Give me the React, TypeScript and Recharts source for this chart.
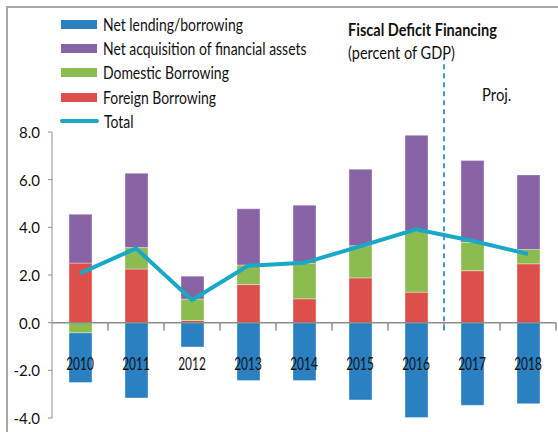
import React from "react";
import {
  ComposedChart,
  Bar,
  Line,
  XAxis,
  YAxis,
  ReferenceLine,
} from "recharts";

const years = ["2010", "2011", "2012", "2013", "2014", "2015", "2016", "2017", "2018"];
const foreignBorrowing = [2.5, 2.25, 0.09, 1.6, 1.0, 1.88, 1.28, 2.18, 2.47];
const domesticBorrowing = [-0.43, 0.9, 0.9, 0.82, 1.5, 1.35, 2.58, 1.2, 0.6];
const netAcquisition = [2.05, 3.12, 0.96, 2.36, 2.43, 3.21, 4.0, 3.42, 3.13];
const netLending = [-2.08, -3.16, -1.02, -2.43, -2.43, -3.24, -3.98, -3.47, -3.4];
const total = [2.07, 3.12, 0.95, 2.39, 2.51, 3.2, 3.92, 3.44, 2.88];
const yTicks = [-4, -2, 0, 2, 4, 6, 8];
// first projected year, dashed line sits at the start of its band
const projStart = "2017";

const COLORS = {
  lending: "#2a80c1",
  acquisition: "#8864a4",
  domestic: "#8cbb4f",
  foreign: "#dc4f4b",
  total: "#18a9c6",
  proj: "#3d9ad6",
  axis: "#8c8c8c",
};

const legendItems = [
  { label: "Net lending/borrowing", color: COLORS.lending, line: false },
  { label: "Net acquisition of financial assets", color: COLORS.acquisition, line: false },
  { label: "Domestic Borrowing", color: COLORS.domestic, line: false },
  { label: "Foreign Borrowing", color: COLORS.foreign, line: false },
  { label: "Total", color: COLORS.total, line: true },
];

const data = years.map((year, i) => ({
  year,
  foreign: foreignBorrowing[i],
  domestic: domesticBorrowing[i],
  acquisition: netAcquisition[i],
  lending: netLending[i],
  total: total[i],
}));

// tick marks between categories: start of every band after the first, plus end of the last
const boundaryTicks = [
  ...years.slice(1).map((y) => ({ year: y, position: "start" as const })),
  { year: years[years.length - 1], position: "end" as const },
];

const FONT = "Lato, 'Open Sans', sans-serif";

const XTick = (props: any) => {
  const { x, y, payload } = props;
  return (
    <g transform={`translate(${x},${y - 63})`}>
      <text
        x={0}
        y={0}
        textAnchor="middle"
        dominantBaseline="central"
        fontSize={18}
        fontFamily={FONT}
        fill="#111"
        transform="scale(0.66,1)"
      >
        {payload.value}
      </text>
    </g>
  );
};

const YTick = (props: any) => {
  const { x, y, payload } = props;
  return (
    <text
      x={x}
      y={y}
      textAnchor="end"
      dominantBaseline="central"
      fontSize={15}
      fontFamily={FONT}
      fill="#111"
    >
      {Number(payload.value).toFixed(1)}
    </text>
  );
};

const squeeze = (scale: number): React.CSSProperties => ({
  display: "inline-block",
  transform: `scaleX(${scale})`,
  transformOrigin: "left center",
  whiteSpace: "nowrap",
});

export default function App() {
  return (
    <div
      style={{
        position: "absolute",
        left: 0,
        top: 0,
        width: 558,
        height: 432,
        background: "#fff",
        fontFamily: FONT,
        overflow: "hidden",
      }}
    >
      <div
        style={{
          position: "absolute",
          left: 6,
          top: 6,
          width: 560,
          height: 440,
          borderLeft: "2px solid #a8a8a8",
          borderTop: "2px solid #a8a8a8",
        }}
      />
      <ComposedChart
        width={558}
        height={432}
        data={data}
        stackOffset="sign"
        margin={{ top: 132, right: 2, bottom: 0, left: 0 }}
        barSize={23}
        style={{ position: "absolute", left: 0, top: 0 }}
      >
        <YAxis
          domain={[-4, 8]}
          ticks={yTicks}
          width={52}
          tickSize={4}
          tickMargin={8}
          stroke={COLORS.axis}
          tick={<YTick />}
          interval={0}
          allowDataOverflow
        />
        <Bar dataKey="foreign" stackId="s" fill={COLORS.foreign} stroke="rgba(255,255,255,0.35)" isAnimationActive={false} />
        <Bar dataKey="domestic" stackId="s" fill={COLORS.domestic} stroke="rgba(255,255,255,0.35)" isAnimationActive={false} />
        <Bar dataKey="acquisition" stackId="s" fill={COLORS.acquisition} stroke="rgba(255,255,255,0.35)" isAnimationActive={false} />
        <Bar dataKey="lending" stackId="s" fill={COLORS.lending} stroke="rgba(255,255,255,0.35)" isAnimationActive={false} />
        <ReferenceLine y={0} stroke={COLORS.axis} strokeWidth={1.5} />
        {boundaryTicks.map((t) => (
          <ReferenceLine
            key={t.year + t.position}
            position={t.position}
            segment={[
              { x: t.year, y: 0 },
              { x: t.year, y: -0.33 },
            ]}
            stroke={COLORS.axis}
            strokeWidth={1.5}
            ifOverflow="visible"
          />
        ))}
        <ReferenceLine
          position="start"
          segment={[
            { x: projStart, y: -0.32 },
            { x: projStart, y: 11.1 },
          ]}
          stroke={COLORS.proj}
          strokeWidth={2}
          strokeDasharray="5 4"
          ifOverflow="visible"
        />
        <Line
          dataKey="total"
          type="linear"
          stroke={COLORS.total}
          strokeWidth={4}
          dot={false}
          isAnimationActive={false}
        />
        <XAxis
          dataKey="year"
          height={14}
          axisLine={false}
          tickLine={false}
          tick={<XTick />}
          interval={0}
        />
      </ComposedChart>

      {legendItems.map((item, i) => (
        <div
          key={item.label}
          style={{
            position: "absolute",
            left: 61,
            top: 24.5 + i * 24.2 - 12,
            height: 24,
            display: "flex",
            alignItems: "center",
          }}
        >
          <div
            style={{
              width: item.line ? 39 : 36,
              height: item.line ? 4 : 9,
              background: item.color,
              borderRadius: item.line ? 2 : 0,
              marginLeft: item.line ? -1 : 0,
            }}
          />
          <span style={{ ...squeeze(0.82), marginLeft: item.line ? 5 : 6, fontSize: 17, color: "#111" }}>
            {item.label}
          </span>
        </div>
      ))}

      <div style={{ position: "absolute", left: 348, top: 19, fontSize: 16.5, fontWeight: 700, color: "#111", lineHeight: "22px" }}>
        <span style={squeeze(0.88)}>Fiscal Deficit Financing</span>
      </div>
      <div style={{ position: "absolute", left: 348, top: 42, fontSize: 16.5, color: "#111", lineHeight: "22px" }}>
        <span style={squeeze(0.88)}>(percent of GDP)</span>
      </div>
      <div style={{ position: "absolute", left: 482, top: 84, fontSize: 16.5, color: "#111", lineHeight: "22px" }}>
        <span style={squeeze(0.9)}>Proj.</span>
      </div>
    </div>
  );
}
